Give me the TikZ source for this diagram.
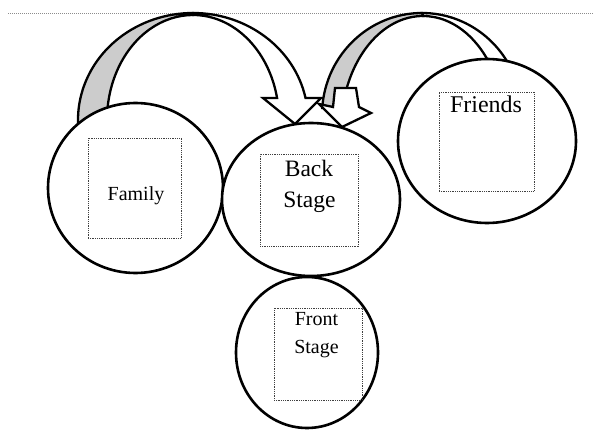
\documentclass[tikz,border=0pt]{standalone}
\usepackage{fontspec}
\setmainfont{Liberation Serif}
\usetikzlibrary{shapes.geometric}
\begin{document}
\begin{tikzpicture}[x=1pt,y=-1pt,
  bubble/.style={ellipse, draw, line width=2.6pt, fill=white, inner sep=0pt},
  dotbox/.style={draw=black!75, line width=0.7pt, dash pattern=on 0.9pt off 0.9pt, inner sep=0pt},
  blockarrow/.style={draw, line width=2.3pt, line join=miter},
  lbl/.style={anchor=base, inner sep=0pt},
  rule/.style={draw=black!45, line width=0.8pt, dash pattern=on 1pt off 1pt}]
\useasboundingbox (0,0) rectangle (594,430);
% top dotted rule
\coordinate (ruleL) at (8,13.5);
\coordinate (ruleR) at (594,13.5);
\draw[rule] (ruleL) -- (ruleR);
% arrow 1: Family -> Back Stage
\coordinate (c1) at (193,120);
\path[blockarrow, fill=black!20]
  ([shift={(190:115pt and 107pt)}]c1) arc[start angle=190, end angle=90, x radius=115pt, y radius=107pt]
  -- ([shift={(90:86pt and 105pt)}]c1) arc[start angle=90, end angle=190, x radius=86pt, y radius=105pt] -- cycle;
\path[blockarrow, fill=white]
  ([shift={(90:115pt and 107pt)}]c1) arc[start angle=90, end angle=11.9, x radius=115pt, y radius=107pt]
  -- (321,98) -- (295,124) -- (263,98)
  -- ([shift={(12.1:86pt and 105pt)}]c1) arc[start angle=12.1, end angle=90, x radius=86pt, y radius=105pt] -- cycle;
% arrow 2: Friends -> Back Stage
\coordinate (c2o) at (422,115);
\coordinate (c2i) at (423,130);
\path[blockarrow, fill=white]
  ([shift={(90:100pt and 102pt)}]c2o) arc[start angle=90, end angle=15, x radius=100pt, y radius=102pt]
  -- ([shift={(25:82pt and 114pt)}]c2i) arc[start angle=25, end angle=90, x radius=82pt, y radius=114pt] -- cycle;
\path[blockarrow, fill=black!20]
  ([shift={(176:100pt and 102pt)}]c2o) arc[start angle=176, end angle=90, x radius=100pt, y radius=102pt]
  -- ([shift={(90:82pt and 114pt)}]c2i) arc[start angle=90, end angle=165, x radius=82pt, y radius=114pt]
  -- (333,107) -- cycle;
\path[blockarrow, fill=white]
  (335,88) -- (356,88) -- (359,107) -- (371,113) -- (342,127) -- (319,104) -- (333,107) -- cycle;
% bubbles
\node[bubble, minimum width=175pt, minimum height=170pt] (family) at (135.5,188) {};
\node[bubble, minimum width=178pt, minimum height=153pt] (back) at (311,199.5) {};
\node[bubble, minimum width=142pt, minimum height=151pt] (front) at (307,352.5) {};
\node[bubble, minimum width=178pt, minimum height=164pt] (friends) at (487,141) {};
% dotted boxes
\node[dotbox, minimum width=93pt, minimum height=100pt] (famBox) at (134.5,188) {};
\node[dotbox, minimum width=98pt, minimum height=92pt] (backBox) at (309,200) {};
\node[dotbox, minimum width=88pt, minimum height=92pt] (frontBox) at (318,354) {};
\node[dotbox, minimum width=95pt, minimum height=99pt] (friendsBox) at (486.5,141.5) {};
% labels
\node[lbl, font=\fontsize{20}{24}\selectfont] (famText) at (136,201) {Family};
\node[lbl, font=\fontsize{23.5}{28}\selectfont] (backText1) at (309,177) {Back};
\node[lbl, font=\fontsize{23.5}{28}\selectfont] (backText2) at (309.5,208) {Stage};
\node[lbl, font=\fontsize{20}{24}\selectfont] (frontText1) at (316.5,325) {Front};
\node[lbl, font=\fontsize{20}{24}\selectfont] (frontText2) at (316.5,353) {Stage};
\node[lbl, font=\fontsize{24}{28}\selectfont] (friendsText) at (486,113) {Friends};
\end{tikzpicture}
\end{document}
